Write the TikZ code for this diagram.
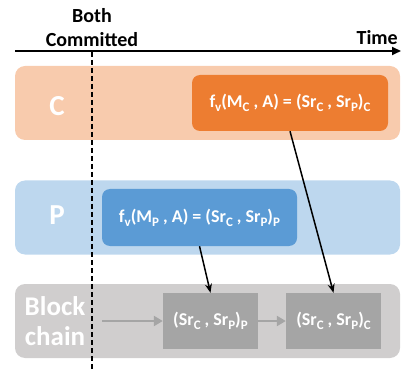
\documentclass[tikz,border=0pt]{standalone}
\usepackage{fontspec}
\setmainfont{Carlito}
\usetikzlibrary{arrows.meta}
\definecolor{cband}{HTML}{F8CBAD}
\definecolor{cbox}{HTML}{ED7D31}
\definecolor{pband}{HTML}{BDD7EE}
\definecolor{pbox}{HTML}{5B9BD5}
\definecolor{kband}{HTML}{D0CECE}
\definecolor{kbox}{HTML}{A5A5A5}
\newcommand\sbs[1]{\raisebox{-4pt}{\fontsize{13}{13}\selectfont #1}}
\tikzset{
  band/.style={rounded corners=10pt, minimum width=385pt, minimum height=74pt, inner sep=0pt},
  evbox/.style={rounded corners=8pt, minimum width=196pt, minimum height=56pt, inner sep=0pt,
    text=white, font=\bfseries\fontsize{18}{18}\selectfont},
  blockbox/.style={fill=kbox, minimum width=95pt, minimum height=56pt, inner sep=0pt,
    text=white, font=\bfseries\fontsize{18}{18}\selectfont},
  lanelabel/.style={text=white, font=\bfseries\fontsize{29}{29}\selectfont},
  link/.style={line width=1.5pt, -{Stealth[length=9pt,width=7pt]}},
  chainlink/.style={draw=kbox, line width=2.5pt, -{Triangle[length=9pt,width=10pt]}},
}
\begin{document}
\begin{tikzpicture}[x=1pt, y=-1pt]
\useasboundingbox (0,0) rectangle (401,371);
% lanes
\node[band, fill=cband] (cband) at (207.5,103) {};
\node[band, fill=pband] (pband) at (207.5,217.5) {};
\node[band, fill=kband] (kband) at (207.5,321) {};
% lane labels
\node[lanelabel] (clabel) at (57,106) {C};
\node[lanelabel] (plabel) at (57,215) {P};
\node[text=white, font=\bfseries\fontsize{27}{30}\selectfont, align=center] (klabel) at (55,321) {Block\\chain};
% time axis and commit marker
\coordinate (t0) at (15,51);
\coordinate (t1) at (401,51);
\draw[line width=1.8pt, -{Triangle[length=9pt,width=8pt]}] (t0) -- (t1);
\node[font=\bfseries\fontsize{20}{20}\selectfont, anchor=south east, inner sep=0pt] (time) at (398,45) {Time};
\node[font=\bfseries\fontsize{20}{24}\selectfont, align=center] (both) at (92,28) {Both\\Committed};
\coordinate (d0) at (92,52);
\coordinate (d1) at (92,371);
\draw[line width=2pt, dash pattern=on 5pt off 3pt] (d0) -- (d1);
% events
\node[evbox, fill=cbox] (cbox) at (290,103) {f\sbs{v}(M\sbs{C} , A) = (Sr\sbs{C} , Sr\sbs{P})\sbs{C}};
\node[evbox, fill=pbox, minimum width=195pt, minimum height=57pt] (pbox) at (199.5,217.5) {f\sbs{v}(M\sbs{P} , A) = (Sr\sbs{C} , Sr\sbs{P})\sbs{P}};
% blocks
\node[blockbox] (b1) at (210.5,321) {(Sr\sbs{C} , Sr\sbs{P})\sbs{P}};
\node[blockbox] (b2) at (333.5,321) {(Sr\sbs{C} , Sr\sbs{P})\sbs{C}};
\coordinate (chainstart) at (102,321);
\draw[chainlink] (chainstart) -- (b1.west);
\draw[chainlink] (b1.east) -- (b2.west);
% recording links
\draw[link] (pbox.south) -- (b1.north);
\draw[link] (cbox.south) -- (b2.north);
\end{tikzpicture}
\end{document}
